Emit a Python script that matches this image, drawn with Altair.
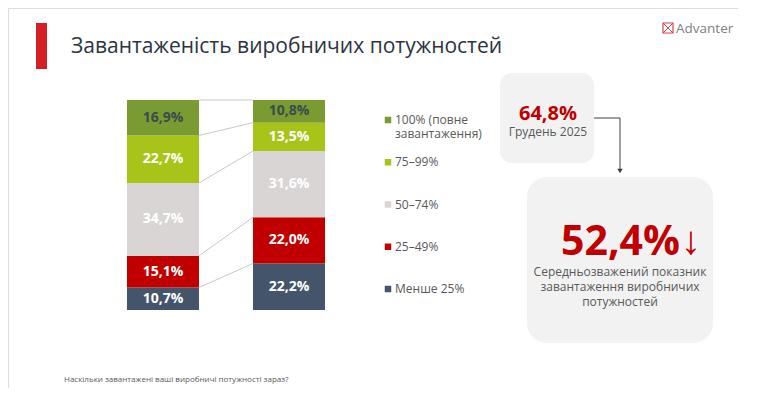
import pandas as pd
import altair as alt

# data
periods = ["Грудень 2025", "Березень 2026"]
categories = ["Менше 25%", "25–49%", "50–74%", "75–99%", "100% (повне завантаження)"]
dec_2025 = [10.7, 15.1, 34.7, 22.7, 16.9]
mar_2026 = [22.2, 22.0, 31.6, 13.5, 10.8]
colors = ["#44546a", "#c00000", "#dad5d5", "#a9c418", "#7a9b31"]
y_ticks = [0, 0.1, 0.2, 0.3, 0.4, 0.5, 0.6, 0.7, 0.8, 0.9, 1.0]
avg_dec = "64,8%"
avg_mar = "52,4%"

FONT = "Open Sans"
GREY = "#595959"
W, H = 730, 380
Y0, Y1 = 302, 92  # pixel rows of 0% and 100%

rows = []
for period, vals in zip(periods, [dec_2025, mar_2026]):
    total = sum(vals)
    cum = 0
    for cat, v in zip(categories, vals):
        rows.append({"period": period, "category": cat, "value": v,
                     "y0": cum / total, "y1": (cum + v) / total,
                     "label": f"{v:.1f}%".replace(".", ",")})
        cum += v
df = pd.DataFrame(rows)
df["ym"] = (df["y0"] + df["y1"]) / 2

# connector lines between segment tops
left = df[df.period == periods[0]].reset_index(drop=True)
right = df[df.period == periods[1]].reset_index(drop=True)
conn = pd.DataFrame({"ya": left["y1"], "yb": right["y1"], "a": periods[0], "b": periods[1]})

yscale = alt.Scale(domain=[0, 1], range=[Y0, Y1])
xscale = alt.Scale(domain=periods, range=[92, 344], paddingInner=0.4286, paddingOuter=0.214)
cscale = alt.Scale(domain=categories, range=colors)
yaxis = alt.Axis(values=y_ticks, tickCount=10, format=".0%", offset=-84, domain=False, ticks=False,
                 grid=False, labelOverlap=False, labelPadding=2, labelFontSize=11,
                 labelColor=GREY, labelFont=FONT, title=None)

bars = alt.Chart(df).mark_bar().encode(
    x=alt.X("period:N", scale=xscale, sort=periods, title=None,
            axis=alt.Axis(offset=Y0 - H, domainColor="#d9d9d9", ticks=False, labelPadding=12,
                          labelFontSize=14, labelColor=GREY, labelFont=FONT, labelAngle=0)),
    y=alt.Y("y0:Q", scale=yscale, title=None, axis=yaxis),
    y2="y1:Q",
    color=alt.Color("category:N", scale=cscale, legend=None),
)

labels = alt.Chart(df).mark_text(font=FONT, fontSize=14, fontWeight="bold").encode(
    x=alt.X("period:N", sort=periods, axis=None),
    y=alt.Y("ym:Q", axis=None),
    text="label:N",
    color=alt.condition(alt.datum.category == categories[-1], alt.value("#3c4a50"), alt.value("white")),
)

connectors = alt.Chart(conn).mark_rule(color="#c8c8c8", strokeWidth=1).encode(
    x=alt.X("a:N", bandPosition=1, axis=None),
    x2=alt.X2("b:N", bandPosition=0),
    y=alt.Y("ya:Q", axis=None),
    y2="yb:Q",
)

# legend (drawn from the category list, top entry first), rows placed 42px apart
leg = pd.DataFrame({"category": categories[::-1],
                    "text": ["100% (повне", "75–99%", "50–74%", "25–49%", "Менше 25%"]})
leg["ly"] = [(Y0 - (112 + 42.25 * i)) / (Y0 - Y1) for i in range(len(leg))]
leg_sym = alt.Chart(leg).mark_square(size=42, opacity=1).encode(
    x=alt.value(380),
    y=alt.Y("ly:Q", axis=None),
    color=alt.Color("category:N", scale=cscale, legend=None),
)
leg_txt = alt.Chart(leg).mark_text(font=FONT, fontSize=12, color=GREY, align="left").encode(
    x=alt.value(387),
    y=alt.Y("ly:Q", axis=None),
    text="text:N",
)
leg_txt2 = alt.Chart(pd.DataFrame({"t": ["завантаження)"]})).mark_text(
    font=FONT, fontSize=12, color=GREY, align="left").encode(
    x=alt.value(387), y=alt.value(126), text="t:N")

one = pd.DataFrame({"k": [0]})


def box(x, x2, y, y2, r):
    return alt.Chart(one).mark_rect(color="#f2f2f2", cornerRadius=r).encode(
        x=alt.value(x), x2=alt.value(x2), y=alt.value(y), y2=alt.value(y2))


def txt(s, x, y, size, color=GREY, weight="normal", align="center", font=FONT):
    return alt.Chart(pd.DataFrame({"t": [s]})).mark_text(
        font=font, fontSize=size, color=color, fontWeight=weight, align=align).encode(
        x=alt.value(x), y=alt.value(y), text="t:N")


def line(x, x2, y, y2, color="#404040"):
    return alt.Chart(one).mark_rule(color=color, strokeWidth=1).encode(
        x=alt.value(x), x2=alt.value(x2), y=alt.value(y), y2=alt.value(y2))


red_bar = alt.Chart(one).mark_rect(color="#d41f26").encode(
    x=alt.value(28), x2=alt.value(39), y=alt.value(15), y2=alt.value(61))
title = txt("Завантаженість виробничих потужностей", 63, 39, 21, color="#2b3340", align="left")

logo = [
    alt.Chart(one).mark_rect(stroke="#d9434a", fillOpacity=0, strokeWidth=1.2).encode(
        x=alt.value(655), x2=alt.value(665), y=alt.value(15), y2=alt.value(25)),
    line(655, 665, 15, 25, "#d9434a"),
    line(665, 655, 15, 25, "#d9434a"),
    txt("Advanter", 668, 21, 13.5, color="#808080", align="left"),
]

callout = [
    box(492, 586, 65, 155, 12),
    txt(avg_dec, 540, 106, 20, color="#c00000", weight="bold"),
    txt(periods[0], 540, 124, 12),
    line(586, 612, 110, 110),
    line(612, 612, 110, 162),
    alt.Chart(one).mark_point(shape="triangle-down", filled=True, size=30, color="#404040", opacity=1).encode(
        x=alt.value(612), y=alt.value(163)),
    box(519, 705, 169, 335, 20),
    txt(avg_mar, 672, 235, 41, color="#c00000", weight="bold", align="right"),
    txt("↓", 673, 234, 40, color="#c00000", align="left", font="Noto Sans"),
    txt("Середньозважений показник", 612, 264, 12),
    txt("завантаження виробничих", 612, 279, 12),
    txt("потужностей", 612, 294, 12),
]

footnote = txt("Наскільки завантажені ваші виробничі потужності зараз?", 56, 372, 8, align="left")

chart = alt.layer(
    bars, connectors, labels, leg_sym, leg_txt, leg_txt2,
    red_bar, title, *logo, *callout, footnote,
).properties(
    width=W, height=H, padding=0, autosize=alt.AutoSizeParams(type="none"),
).configure_view(strokeWidth=0).configure(background="white")

chart.save("out.html", embed_options={"renderer": "svg", "actions": False})
